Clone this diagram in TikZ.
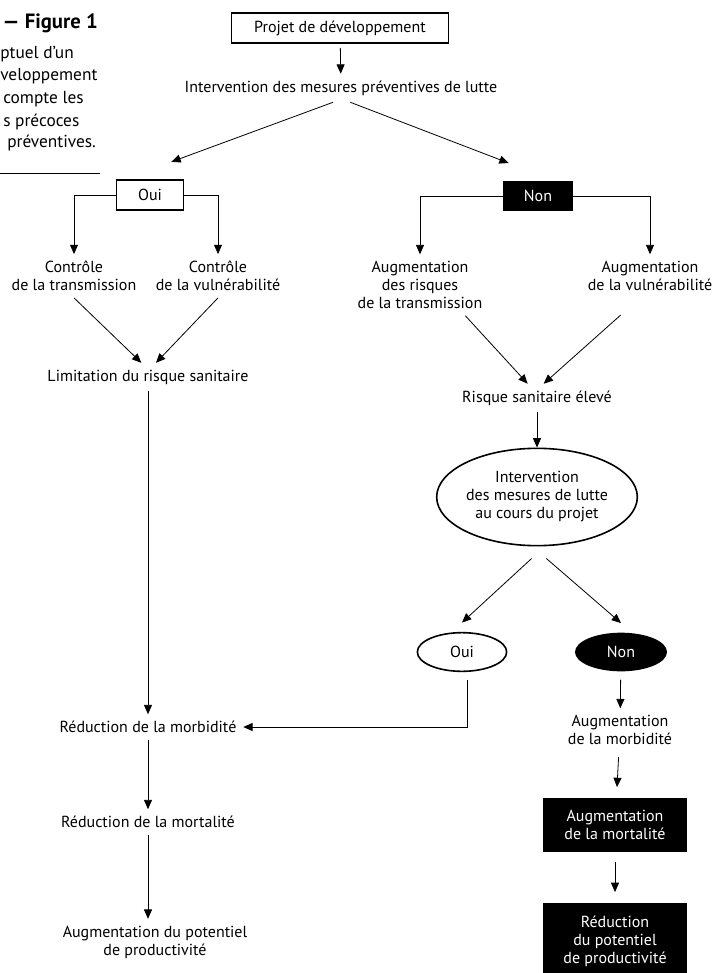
\documentclass[tikz,border=0pt]{standalone}
\usepackage{fontspec}
\setmainfont{PT Sans}
\usetikzlibrary{arrows.meta,shapes.geometric}

\begin{document}
\begin{tikzpicture}[x=0.75pt,y=-0.75pt,
  lbl/.style={align=center,inner sep=5pt,font=\fontsize{12}{13.5}\selectfont},
  framed/.style={draw,line width=1.2pt,inner sep=2pt,minimum height=22.5pt,font=\fontsize{12}{13.5}\selectfont},
  blackbox/.style={fill=black,text=white,align=center,inner sep=2pt,font=\fontsize{12}{13.5}\selectfont},
  oval/.style={ellipse,draw,line width=1.2pt,inner sep=0pt,align=center,font=\fontsize{12}{13.5}\selectfont},
  blackoval/.style={ellipse,fill=black,text=white,inner sep=0pt,font=\fontsize{12}{13.5}\selectfont},
  capline/.style={anchor=west,inner sep=0pt,font=\fontsize{13}{15}\selectfont},
  arr/.style={-{Triangle[length=7pt,width=6pt]},line width=0.6pt}
]
\useasboundingbox (0,0) rectangle (716,973);

% caption, as far as it shows
\node[capline,anchor=east,font=\bfseries\fontsize{15.5}{17}\selectfont] (figno) at (98,23) {— Figure 1};
\node[capline] (cap1) at (0,54) {ptuel d'un};
\node[capline] (cap2) at (0,76) {veloppement};
\node[capline] (cap3) at (3,99) {compte les};
\node[capline] (cap4) at (3,122) {s précoces};
\node[capline] (cap5) at (7,143) {préventives.};
\draw[line width=0.6pt] (0,173) -- (100,173);

% top
\node[framed,minimum width=163pt] (projet) at (340,28) {Projet de développement};
\node[lbl] (interv) at (341,88) {Intervention des mesures préventives de lutte};

% left branch
\node[framed,minimum width=50pt] (oui1) at (150,195) {Oui};
\node[lbl] (ctrans) at (74,276) {Contrôle\\de la transmission};
\node[lbl] (cvuln) at (218,276) {Contrôle\\de la vulnérabilité};
\node[lbl] (limit) at (148,377) {Limitation du risque sanitaire};
\node[lbl] (redmorb) at (148,727) {Réduction de la morbidité};
\node[lbl] (redmort) at (148,822) {Réduction de la mortalité};
\node[lbl] (augpot) at (155,942) {Augmentation du potentiel\\de productivité};

% right branch
\node[blackbox,minimum width=52pt,minimum height=23pt] (non1) at (538,196) {Non};
\node[lbl] (augtrans) at (420,285) {Augmentation\\des risques\\de la transmission};
\node[lbl] (augvuln) at (650,276) {Augmentation\\de la vulnérabilité};
\node[lbl] (risque) at (537,398) {Risque sanitaire élevé};
\node[oval,minimum width=148pt,minimum height=73pt] (mesures) at (537,497) {Intervention\\des mesures de lutte\\au cours du projet};
\node[oval,minimum width=67pt,minimum height=29pt] (oui2) at (462,652) {Oui};
\node[blackoval,minimum width=69pt,minimum height=29pt] (non2) at (621,652) {Non};
\node[lbl] (augmorb) at (620,730) {Augmentation\\de la morbidité};
\node[blackbox,minimum width=108pt,minimum height=40.5pt] (mortbox) at (615,825) {Augmentation\\de la mortalité};
\node[blackbox,minimum width=108pt,minimum height=57pt] (prodbox) at (615,941) {Réduction\\du potentiel\\de productivité};

% connectors
\draw[arr,shorten <=3pt] (projet) -- (interv);
\draw[arr] ([xshift=-6pt]interv.south) -- ([shift={(16pt,13pt)}]oui1.north);
\draw[arr] ([xshift=7pt]interv.south) -- ([shift={(-22pt,13pt)}]non1.north);
\draw[arr] (oui1.west) -| (ctrans.north);
\draw[arr] (oui1.east) -| (cvuln.north);
\draw[arr] (non1.west) -| (augtrans.north);
\draw[arr] (non1.east) -| (augvuln.north);
\draw[arr] (ctrans.south) -- ([xshift=-5pt]limit.north);
\draw[arr] (cvuln.south) -- ([xshift=6pt]limit.north);
\draw[arr] ([xshift=34pt]augtrans.south) -- ([xshift=-7pt]risque.north);
\draw[arr] ([shift={(-22pt,-13pt)}]augvuln.south) -- ([xshift=5pt]risque.north);
\draw[arr] (limit) -- (redmorb);
\draw[arr] (redmorb) -- (redmort);
\draw[arr] (redmort.south) -- (redmort.south |- augpot.north);
\draw[arr] (risque) -- (mesures);
\draw[arr] ([shift={(-4pt,-9pt)}]mesures.south) -- ([yshift=7pt]oui2.north);
\draw[arr] ([shift={(7pt,-9pt)}]mesures.south) -- ([yshift=7pt]non2.north);
\draw[arr,shorten <=6pt] ([xshift=4pt]oui2.south) |- (redmorb.east);
\draw[arr,shorten <=6pt] (non2) -- (augmorb);
\draw[arr,shorten <=4pt,shorten >=8pt] (augmorb) -- (mortbox);
\draw[arr,shorten <=7pt,shorten >=8pt] (mortbox) -- (prodbox);
\end{tikzpicture}
\end{document}
